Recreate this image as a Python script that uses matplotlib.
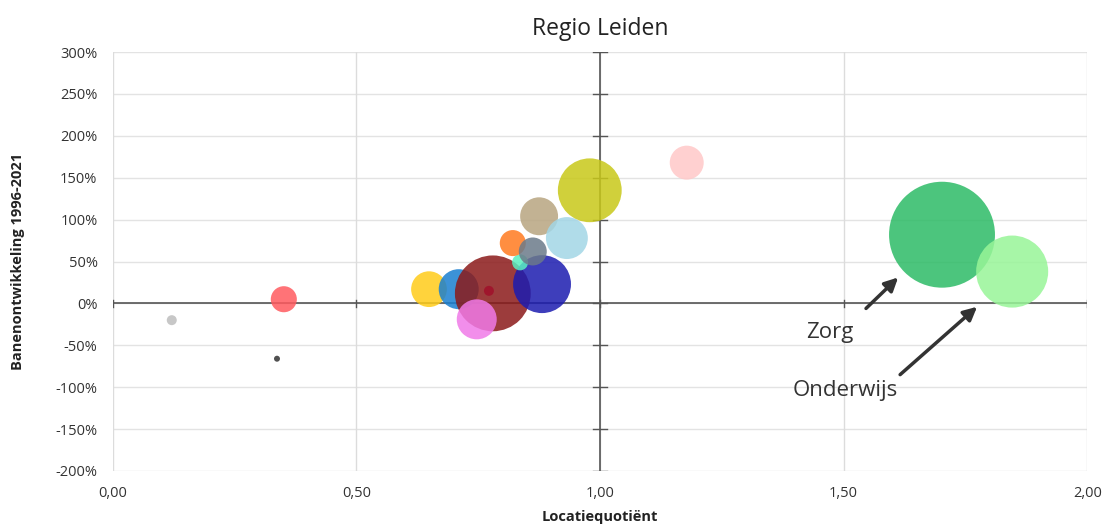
import matplotlib
matplotlib.use("Agg")
import matplotlib.pyplot as plt
from matplotlib.ticker import FuncFormatter, MultipleLocator

plt.rcParams['font.family'] = ['Open Sans', 'DejaVu Sans']

# Data: sector bubbles (Locatiequotiënt, Banenontwikkeling %, relative job count)
sectors = ['Landbouw', 'Delfstoffen', 'Energie', 'Bouw', 'Vervoer', 'Handel',
           'Water', 'Cultuur', 'Industrie', 'Afval', 'Horeca', 'Financieel',
           'Vastgoed', 'ICT', 'Zakelijk', 'Overig', 'Zorg', 'Onderwijs']
lq = [0.121, 0.337, 0.351, 0.649, 0.710, 0.780, 0.772, 0.747, 0.881, 0.836,
      0.821, 0.862, 0.875, 0.932, 0.979, 1.178, 1.702, 1.846]
groei = [-20, -66, 5, 17, 17, 12, 15, -19, 23, 49,
         72, 62, 104, 78, 135, 168, 82, 38]
banen = [25, 9, 170, 320, 400, 1440, 25, 400, 840, 64,
         170, 196, 360, 440, 1020, 289, 2810, 1300]
colors = ['#bdbdbd', '#333333', '#ff5a5f', '#ffcc1a', '#1a7fd0', '#8b1a1a',
          '#a0102a', '#f07ae8', '#1c1cb0', '#5af0c0', '#ff7a1f', '#6b7a8a',
          '#b8a580', '#a2d6e6', '#c8c818', '#ffc8c8', '#2dbb66', '#98f598']

x_ticks = [0.0, 0.5, 1.0, 1.5, 2.0]

fig = plt.figure(figsize=(11.06, 5.31), dpi=100)
ax = fig.add_axes([0.102, 0.113, 0.881, 0.789])

ax.set_xlim(0, 2)
ax.set_ylim(-200, 300)

# grid
for v in range(-200, 301, 50):
    ax.axhline(v, color='#e3e3e3', lw=1, zorder=0)
for v in x_ticks:
    ax.axvline(v, color='#dcdcdc', lw=1, zorder=0)

# central axes
ax.axhline(0, color='#555555', lw=1.2, zorder=1)
ax.axvline(1.0, color='#555555', lw=1.2, zorder=1)
for v in range(-200, 301, 50):
    ax.plot([0.985, 1.015], [v, v], color='#555555', lw=1, zorder=1)
for v in x_ticks:
    ax.plot([v, v], [-4, 4], color='#555555', lw=1, zorder=1)

scale = 2.07
ax.scatter(lq, groei, s=[b * scale for b in banen], c=colors, alpha=0.85,
           edgecolors='none', zorder=3)

for s in ax.spines.values():
    s.set_visible(False)
ax.set_xticks(x_ticks)
ax.yaxis.set_major_locator(MultipleLocator(50))
ax.xaxis.set_major_formatter(FuncFormatter(lambda v, p: f'{v:.2f}'.replace('.', ',')))
ax.yaxis.set_major_formatter(FuncFormatter(lambda v, p: f'{v:.0f}%'))
ax.tick_params(length=0, labelsize=10.5, colors='#333333')
ax.tick_params(axis='y', pad=11)
ax.tick_params(axis='x', pad=11)

ax.set_xlabel('Locatiequotiënt', fontsize=10.5, fontweight='bold', labelpad=6,
              color='#222222')
ax.set_ylabel('Banenontwikkeling 1996-2021', fontsize=10.5, fontweight='bold',
              labelpad=22, color='#222222')
ax.set_title('Regio Leiden', fontsize=16.5, pad=12, color='#222222')

arrow = dict(arrowstyle='-|>', color='#333333', lw=2.5, mutation_scale=20,
             shrinkA=0, shrinkB=0)
ax.annotate('', xy=(1.612, 31), xytext=(1.546, -6), arrowprops=arrow, zorder=5)
ax.text(1.472, -35, 'Zorg', fontsize=16, ha='center', va='center', color='#333333')
ax.annotate('', xy=(1.774, -4), xytext=(1.616, -85), arrowprops=arrow, zorder=5)
ax.text(1.503, -104, 'Onderwijs', fontsize=16, ha='center', va='center', color='#333333')

fig.savefig('out.png', dpi=100)
